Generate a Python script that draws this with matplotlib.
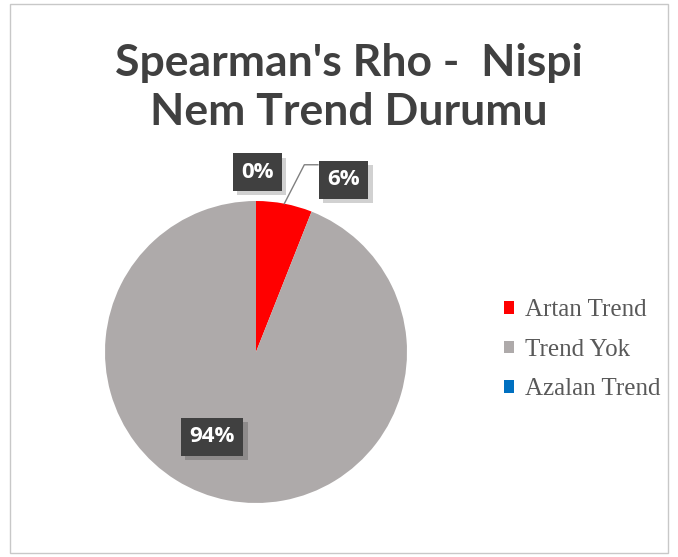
import numpy as np
import matplotlib.pyplot as plt
import matplotlib.patheffects as pe
from matplotlib.patches import Rectangle

# trend counts as shares (percent)
categories = ['Artan Trend', 'Trend Yok', 'Azalan Trend']
shares = [6, 94, 0]
colors = ['#ff0000', '#aeaaaa', '#0070c0']
pct_labels = ['6%', '94%', '0%']

fig = plt.figure(figsize=(6.78, 5.57), dpi=100)
fig.patch.set_facecolor('white')

# outer chart frame
fig.patches.append(Rectangle((10 / 678, 4 / 557), 658 / 678, 549 / 557,
                             transform=fig.transFigure, fill=False,
                             edgecolor='#c8c8c8', linewidth=1.0))

fig.text(0.515, 0.843, "Spearman's Rho -  Nispi\nNem Trend Durumu",
         ha='center', va='center', fontsize=32, fontweight='bold',
         family='Lato', color='#404040', linespacing=1.25)

cx, cy, r = 256, 352, 151
ax = fig.add_axes([(cx - r) / 678, 1 - (cy + r) / 557, 2 * r / 678, 2 * r / 557])
wedges, _ = ax.pie(shares, colors=colors, startangle=90, counterclock=False,
                   radius=1.0, wedgeprops=dict(linewidth=0))
ax.set_xlim(-1, 1)
ax.set_ylim(-1, 1)
ax.set_aspect('equal')
ax.axis('off')

# label positions in pie coordinates
label_pos = {'6%': (0.58, 1.14), '94%': (-0.29, -0.56), '0%': (0.01, 1.19)}

# leader line for the thin red slice
mid = np.deg2rad(90 - shares[0] * 3.6 / 2)
ax.plot([np.cos(mid), 0.32, 0.41], [np.sin(mid), 1.24, 1.24],
        color='#808080', linewidth=1.0, clip_on=False)

for s in pct_labels:
    x, y = label_pos[s]
    t = ax.text(x, y, s, ha='center', va='center', fontsize=16, fontweight='bold',
                family='Open Sans', color='white', clip_on=False,
                bbox=dict(boxstyle='square,pad=0.38', fc='#404040', ec='none'))
    t.get_bbox_patch().set_path_effects([
        pe.SimplePatchShadow(offset=(3, -3), shadow_rgbFace='#000000', alpha=0.18),
        pe.Normal()])

handles = [Rectangle((0, 0), 1, 1, fc=c, ec='none') for c in colors]
leg = fig.legend(handles, categories, loc='center left',
                 bbox_to_anchor=(491 / 678, 0.372), frameon=False, borderpad=0,
                 prop=dict(family='Liberation Serif', size=18),
                 handlelength=0.4, handleheight=0.4, handletextpad=0.45,
                 labelspacing=0.7)
for t in leg.get_texts():
    t.set_color('#595959')

fig.savefig('out.png', dpi=100, facecolor='white')
